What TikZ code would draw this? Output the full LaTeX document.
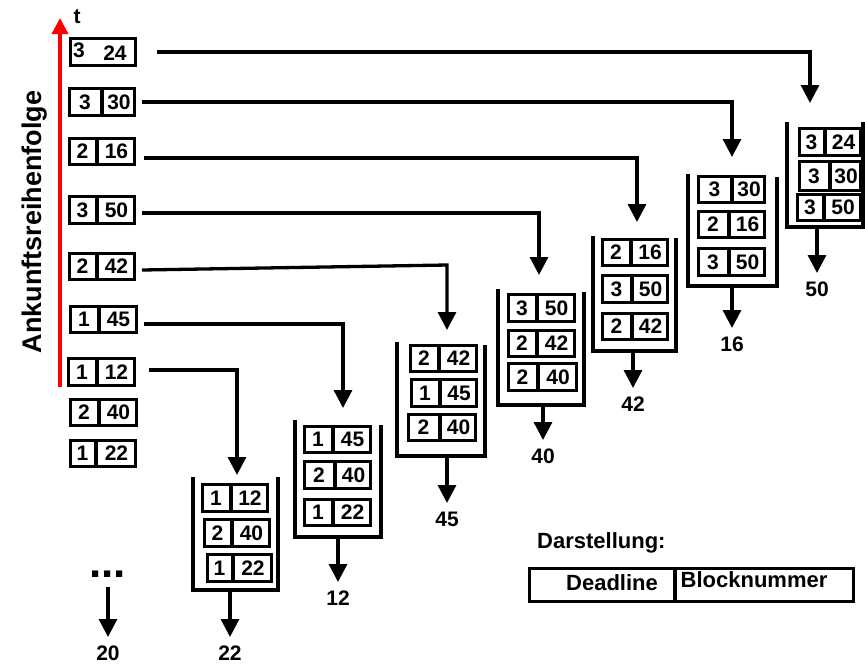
\documentclass[tikz,border=0pt]{standalone}
\usepackage{fontspec}
\setmainfont{Liberation Sans}
\usetikzlibrary{arrows.meta,fit}
\tikzset{
  lw/.style={line width=3.3pt},
  pairbox/.style={draw, line width=3.3pt, inner sep=-1.65pt},
  num/.style={font=\fontsize{21}{21}\selectfont\bfseries, inner sep=0pt},
  word/.style={font=\fontsize{22}{22}\selectfont\bfseries, inner sep=0pt},
  conn/.style={line width=3.3pt, -{Triangle[width=18pt,length=18pt]}},
  ustack/.style={line width=3.3pt},
}
\newcommand{\pbox}[8]{%
  \coordinate (#1-nw) at (#2,#3);
  \coordinate (#1-se) at (#4,#5);
  \node[pairbox, fit=(#1-nw)(#1-se)] (#1) {};
  \draw[lw] (#6,#3) -- (#6,#5);
  \node[num] at ({(#2+#6)/2},{(#3+#5)/2}) {#7};
  \node[num] at ({(#6+#4)/2},{(#3+#5)/2}) {#8};
}
\newcommand{\ustk}[9]{% name, xl, ytl, xr, ytr, ybot, xout, ytip, label
  \draw[ustack] (#2,#3) -- (#2,#6) -- (#4,#6) -- (#4,#5);
  \coordinate (#1-o) at (#7,#6);
  \coordinate (#1-t) at (#7,#8);
  \draw[conn] (#1-o) -- (#1-t);
  \node[num] (#1-l) at (#7,{#8+16}) {#9};
}
\begin{document}
\begin{tikzpicture}[x=1pt,y=-1pt]
\useasboundingbox (0,0) rectangle (865,665);

% time axis
\coordinate (ra) at (60,387);
\coordinate (rb) at (60,18);
\draw[red, line width=3.3pt, -{Triangle[width=16pt,length=16pt]}] (ra) -- (rb);
\node[font=\fontsize{21}{21}\selectfont\bfseries, inner sep=0pt] (tl) at (77,17) {t};
\node[font=\fontsize{27}{27}\selectfont\bfseries, inner sep=0pt, rotate=90] (ank) at (35,222) {Ankunftsreihenfolge};

% left column (arrival order)
\coordinate (b1-nw) at (69,37);
\coordinate (b1-se) at (137,67);
\node[pairbox, fit=(b1-nw)(b1-se)] (b1) {};
\node[num] at (79,50) {3};
\node[num] at (115,53) {24};
\pbox{b2}{68}{87}{136}{117}{102}{3}{30}
\pbox{b3}{68}{137}{136}{166}{97}{2}{16}
\pbox{b4}{68}{195}{136}{225}{97}{3}{50}
\pbox{b5}{68}{252}{136}{281}{97}{2}{42}
\pbox{b6}{69}{305}{138}{334}{99}{1}{45}
\pbox{b7}{67}{357}{136}{387}{97}{1}{12}
\pbox{b8}{69}{398}{138}{427}{99}{2}{40}
\pbox{b9}{69}{439}{137}{468}{96}{1}{22}

% stacks
\ustk{sA}{193}{477}{278}{477}{590}{230}{637}{22}
\pbox{a1}{201}{483}{269}{513}{231}{1}{12}
\pbox{a2}{203}{518}{271}{548}{232}{2}{40}
\pbox{a3}{206}{553}{273}{583}{233}{1}{22}

\ustk{sB}{295}{420}{381}{425}{537}{338}{582}{12}
\pbox{c1}{303}{425}{372}{454}{333}{1}{45}
\pbox{c2}{303}{460}{372}{490}{335}{2}{40}
\pbox{c3}{303}{498}{372}{527}{333}{1}{22}

\ustk{sC}{397}{342}{485}{345}{456}{447}{503}{45}
\pbox{d1}{409}{344}{478}{373}{439}{2}{42}
\pbox{d2}{410}{378}{478}{408}{440}{1}{45}
\pbox{d3}{407}{413}{477}{442}{440}{2}{40}

\ustk{sD}{498}{289}{584}{292}{405}{543}{440}{40}
\pbox{e1}{507}{293}{576}{323}{537}{3}{50}
\pbox{e2}{507}{329}{576}{358}{537}{2}{42}
\pbox{e3}{507}{362}{578}{392}{538}{2}{40}

\ustk{sE}{593}{236}{676}{238}{351}{633}{388}{42}
\pbox{f1}{601}{238}{669}{267}{631}{2}{16}
\pbox{f2}{601}{274}{669}{304}{632}{3}{50}
\pbox{f3}{601}{312}{669}{341}{632}{2}{42}

\ustk{sF}{688}{174}{777}{177}{286}{732}{328}{16}
\pbox{g1}{697}{175}{766}{204}{732}{3}{30}
\pbox{g2}{697}{210}{766}{239}{729}{2}{16}
\pbox{g3}{697}{247}{766}{277}{729}{3}{50}

\ustk{sG}{787}{122}{863}{122}{227}{817}{273}{50}
\pbox{h1}{798}{127}{862}{157}{825}{3}{24}
\pbox{h2}{798}{160}{862}{192}{830}{3}{30}
\pbox{h3}{796}{193}{862}{222}{824}{3}{50}

% input targets
\coordinate (iA) at (237,475);
\coordinate (iB) at (343,408);
\coordinate (iC) at (447,330);
\coordinate (iD) at (539,275);
\coordinate (iE) at (637,222);
\coordinate (iF) at (732,157);
\coordinate (iG) at (810,103);
\coordinate (kC) at (447,265);

% connectors
\draw[conn] ([xshift=20pt]b1.east) -| (iG);
\draw[conn] ([xshift=6pt]b2.east) -| (iF);
\draw[conn] ([xshift=8pt,yshift=-6.5pt]b3.east) -| (iE);
\draw[conn] ([xshift=6pt,yshift=-3pt]b4.east) -| (iD);
\draw[conn] ([xshift=6pt,yshift=-3.5pt]b5.east) -- (kC) -- (iC);
\draw[conn] ([xshift=6pt,yshift=-4.5pt]b6.east) -| (iB);
\draw[conn] ([xshift=13pt,yshift=2pt]b7.east) -| (iA);

% continuation
\node[font=\fontsize{44}{44}\selectfont\bfseries, inner sep=0pt, anchor=base west] (dots) at (89,577) {...};
\coordinate (dA) at (108,587);
\coordinate (dB) at (108,637);
\draw[conn] (dA) -- (dB);
\node[num] (l20) at (108,653) {20};

% legend
\node[word, anchor=base west] (dar) at (537,548) {Darstellung:};
\coordinate (lg-nw) at (528,567);
\coordinate (lg-se) at (855,603);
\node[pairbox, fit=(lg-nw)(lg-se)] (lg) {};
\draw[lw] (675,567) -- (675,603);
\node[word, anchor=base] (dl) at (612,590) {Deadline};
\node[word, anchor=base] (bn) at (754,587) {Blocknummer};
\end{tikzpicture}
\end{document}
